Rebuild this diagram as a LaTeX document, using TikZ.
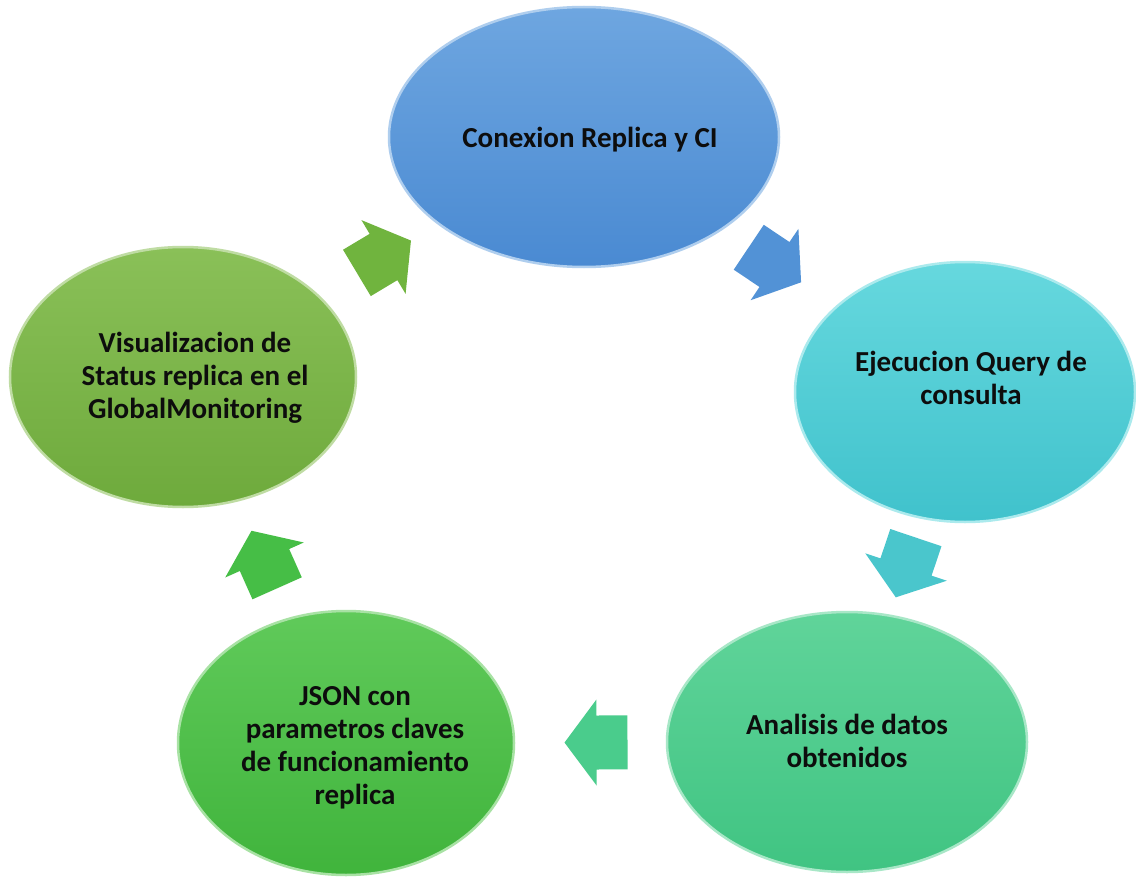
\documentclass[tikz,border=0pt]{standalone}
\usepackage{fontspec}
\setmainfont{Carlito}
\usetikzlibrary{shapes.geometric,calc}
\definecolor{tT}{RGB}{110,166,224}
\definecolor{bT}{RGB}{74,138,210}
\definecolor{tR}{RGB}{102,216,222}
\definecolor{bR}{RGB}{64,194,204}
\definecolor{tBR}{RGB}{96,212,154}
\definecolor{bBR}{RGB}{64,196,130}
\definecolor{tBL}{RGB}{96,202,90}
\definecolor{bBL}{RGB}{64,180,60}
\definecolor{tL}{RGB}{138,192,88}
\definecolor{bL}{RGB}{110,170,60}
\definecolor{aA}{RGB}{112,180,62}
\definecolor{aB}{RGB}{82,146,214}
\definecolor{aC}{RGB}{74,198,204}
\definecolor{aD}{RGB}{74,204,140}
\definecolor{aE}{RGB}{70,190,70}
\begin{document}
\begin{tikzpicture}[x=1pt,y=-1pt,
  cyc/.style={ellipse, inner sep=0pt, line width=2.5pt},
  lab/.style={align=center, inner sep=0pt, text=black!95,
    font=\bfseries\fontsize{29}{33}\selectfont},
  blockarrow/.pic={\fill[#1] (-31,-27) -- (0,-27) -- (0,-43) -- (32,0)
      -- (0,43) -- (0,27) -- (-31,27) -- cycle;}]
\useasboundingbox[fill=white] (0,0) rectangle (1136,880);
% ellipses
\node[cyc, minimum width=390pt, minimum height=260pt,
  top color=tT, bottom color=bT, draw=tT!55!white] (T) at (584,137) {};
\node[cyc, minimum width=340pt, minimum height=260pt,
  top color=tR, bottom color=bR, draw=tR!55!white] (R) at (965,392) {};
\node[cyc, minimum width=360pt, minimum height=260pt,
  top color=tBR, bottom color=bBR, draw=tBR!55!white] (BR) at (847,742) {};
\node[cyc, minimum width=336pt, minimum height=264pt,
  top color=tBL, bottom color=bBL, draw=tBL!55!white] (BL) at (346,743) {};
\node[cyc, minimum width=346pt, minimum height=260pt,
  top color=tL, bottom color=bL, draw=tL!55!white] (L) at (183,377) {};
% texts
\node[lab] (Tt) at (590,140) {Conexion Replica y CI};
\node[lab] (Rt) at (971,378) {Ejecucion Query de\\consulta};
\node[lab] (BRt) at (847,741) {Analisis de datos\\obtenidos};
\node[lab] (BLt) at (355,748) {JSON con\\parametros claves\\de funcionamiento\\replica};
\node[lab] (Lt) at (195,378) {Visualizacion de\\Status replica en el\\GlobalMonitoring};
% block arrows
\path (L.center) -- (T.center) pic[pos=0.5, sloped, allow upside down] {blockarrow=aA};
\path (T.center) -- (R.center) pic[pos=0.5, sloped, allow upside down] {blockarrow=aB};
\path (R.center) -- (BR.center) pic[pos=0.5, sloped, allow upside down] {blockarrow=aC};
\path (BR.center) -- (BL.center) pic[pos=0.5, sloped, allow upside down] {blockarrow=aD};
\path (BL.center) -- (L.center) pic[pos=0.5, sloped, allow upside down] {blockarrow=aE};
\end{tikzpicture}
\end{document}
